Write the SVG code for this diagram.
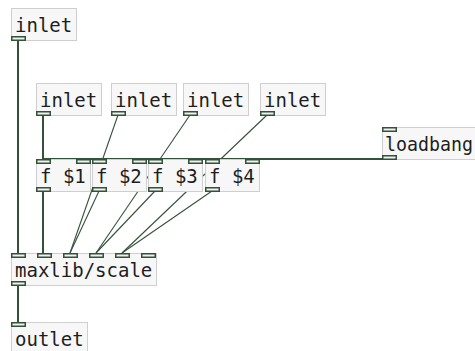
<svg xmlns="http://www.w3.org/2000/svg" width="475" height="351" viewBox="0 0 475 351">
<style>
.box{fill:#f7f7f7;stroke:#cfcfcf;stroke-width:1}
.nub{fill:#eef1ee;stroke:#34513a;stroke-width:1.5}
.t{font-family:"DejaVu Sans Mono","Liberation Mono",monospace;font-size:19px;fill:#1e1e1e}
.c{stroke:#34513a;fill:none}
.s{stroke-width:2}
.d{stroke-width:1.1}
</style>
<rect width="475" height="351" fill="#ffffff"/>
<g id="connectors">
<line class="c s" x1="18" y1="40" x2="18" y2="253"/>
<line class="c s" x1="43" y1="115" x2="43" y2="253"/>
<line class="c d" x1="118" y1="115" x2="70" y2="253"/>
<line class="c d" x1="190" y1="115" x2="96" y2="253"/>
<line class="c d" x1="267" y1="115" x2="122" y2="253"/>
<line class="c s" x1="43" y1="159" x2="389" y2="159"/>
<line class="c d" x1="99" y1="191" x2="70" y2="253"/>
<line class="c d" x1="155" y1="191" x2="96" y2="253"/>
<line class="c d" x1="212" y1="191" x2="122" y2="253"/>
<line class="c s" x1="18" y1="285" x2="18" y2="322"/>
</g>
<g id="inlet0">
<rect class="box" x="11.5" y="8.5" width="65" height="32"/>
<text class="t" x="15" y="32">inlet</text>
<rect class="nub" x="11.75" y="36.75" width="13.5" height="3.5"/>
</g>
<g id="inlet1">
<rect class="box" x="36.5" y="83.5" width="65" height="32"/>
<text class="t" x="40" y="107">inlet</text>
<rect class="nub" x="36.75" y="111.75" width="13.5" height="3.5"/>
</g>
<g id="inlet2">
<rect class="box" x="111.5" y="83.5" width="65" height="32"/>
<text class="t" x="115" y="107">inlet</text>
<rect class="nub" x="111.75" y="111.75" width="13.5" height="3.5"/>
</g>
<g id="inlet3">
<rect class="box" x="183.5" y="83.5" width="65" height="32"/>
<text class="t" x="187" y="107">inlet</text>
<rect class="nub" x="183.75" y="111.75" width="13.5" height="3.5"/>
</g>
<g id="inlet4">
<rect class="box" x="260.5" y="83.5" width="65" height="32"/>
<text class="t" x="264" y="107">inlet</text>
<rect class="nub" x="260.75" y="111.75" width="13.5" height="3.5"/>
</g>
<g id="loadbang">
<rect class="box" x="382.5" y="127.5" width="99" height="32"/>
<text class="t" x="385" y="151" textLength="88" lengthAdjust="spacingAndGlyphs">loadbang</text>
<rect class="nub" x="382.75" y="127.75" width="13.5" height="3.5"/>
<rect class="nub" x="382.75" y="155.75" width="13.5" height="3.5"/>
</g>
<g id="f1">
<rect class="box" x="36.5" y="159.5" width="54" height="32"/>
<text class="t" x="40" y="183">f $1</text>
<rect class="nub" x="36.75" y="159.75" width="13.5" height="3.5"/>
<rect class="nub" x="76.75" y="159.75" width="13.5" height="3.5"/>
<rect class="nub" x="36.75" y="187.75" width="13.5" height="3.5"/>
</g>
<g id="f2">
<rect class="box" x="92.5" y="159.5" width="54" height="32"/>
<text class="t" x="96" y="183">f $2</text>
<rect class="nub" x="92.75" y="159.75" width="13.5" height="3.5"/>
<rect class="nub" x="132.75" y="159.75" width="13.5" height="3.5"/>
<rect class="nub" x="92.75" y="187.75" width="13.5" height="3.5"/>
</g>
<g id="f3">
<rect class="box" x="148.5" y="159.5" width="54" height="32"/>
<text class="t" x="152" y="183">f $3</text>
<rect class="nub" x="148.75" y="159.75" width="13.5" height="3.5"/>
<rect class="nub" x="188.75" y="159.75" width="13.5" height="3.5"/>
<rect class="nub" x="148.75" y="187.75" width="13.5" height="3.5"/>
</g>
<g id="f4">
<rect class="box" x="205.5" y="159.5" width="54" height="32"/>
<text class="t" x="209" y="183">f $4</text>
<rect class="nub" x="205.75" y="159.75" width="13.5" height="3.5"/>
<rect class="nub" x="245.75" y="159.75" width="13.5" height="3.5"/>
<rect class="nub" x="205.75" y="187.75" width="13.5" height="3.5"/>
</g>
<g id="scale">
<rect class="box" x="11.5" y="253.5" width="145" height="32"/>
<text class="t" x="15" y="277">maxlib/scale</text>
<rect class="nub" x="11.75" y="253.75" width="13.5" height="3.5"/>
<rect class="nub" x="37.75" y="253.75" width="13.5" height="3.5"/>
<rect class="nub" x="63.75" y="253.75" width="13.5" height="3.5"/>
<rect class="nub" x="89.75" y="253.75" width="13.5" height="3.5"/>
<rect class="nub" x="115.75" y="253.75" width="13.5" height="3.5"/>
<rect class="nub" x="141.75" y="253.75" width="13.5" height="3.5"/>
<rect class="nub" x="11.75" y="281.75" width="13.5" height="3.5"/>
</g>
<g id="outlet">
<rect class="box" x="11.5" y="322.5" width="76" height="32"/>
<text class="t" x="15" y="346">outlet</text>
<rect class="nub" x="11.75" y="322.75" width="13.5" height="3.5"/>
</g>
</svg>
